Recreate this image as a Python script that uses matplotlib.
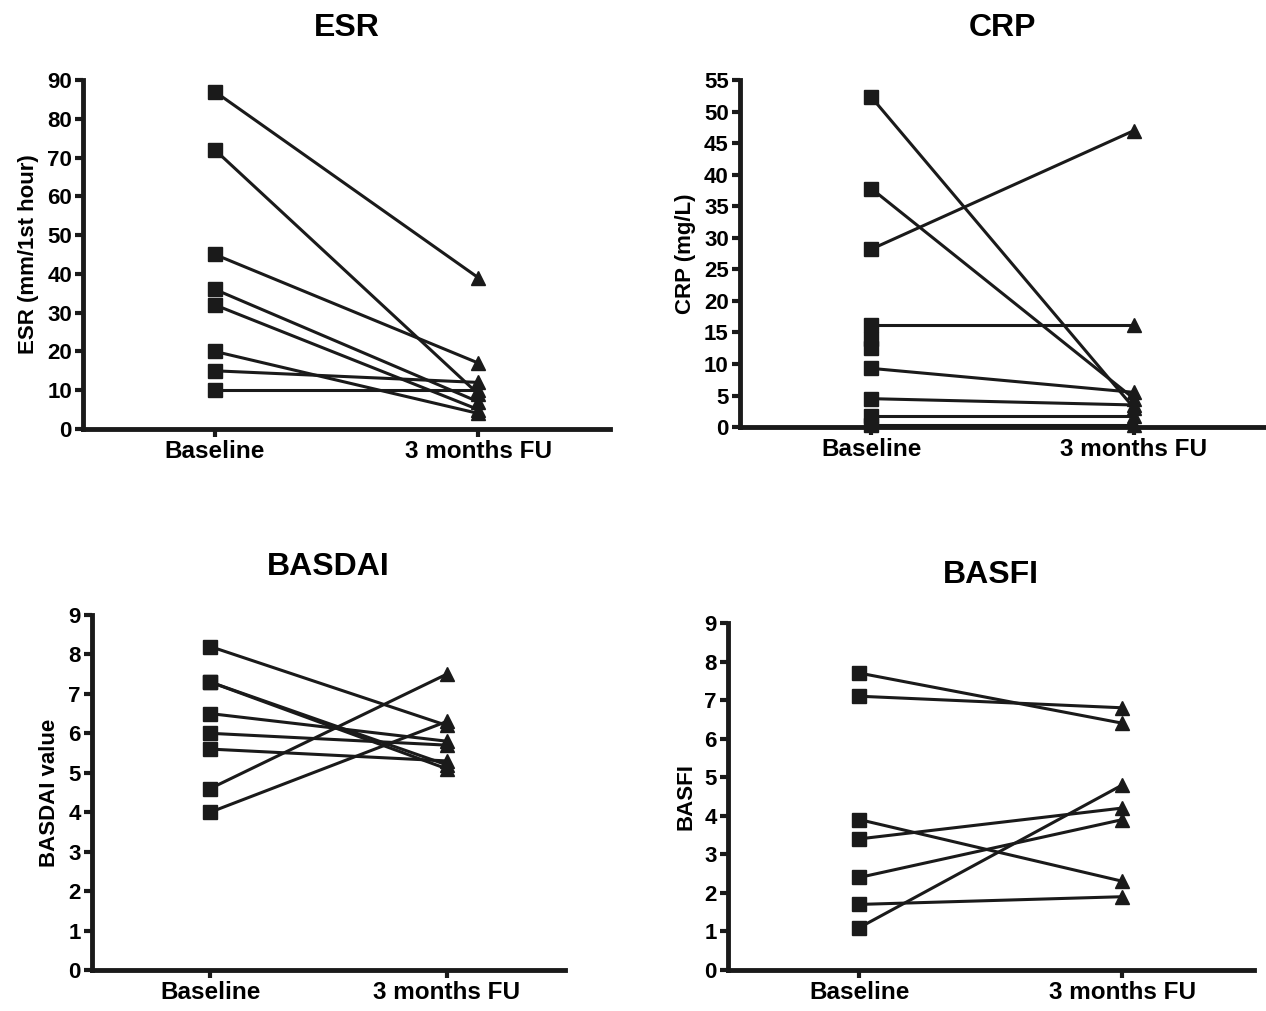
import numpy as np
import matplotlib
matplotlib.use("Agg")
import matplotlib.pyplot as plt

plt.rcParams['font.family'] = ['Liberation Sans', 'DejaVu Sans']
plt.rcParams['font.weight'] = 'bold'

groups = ["Baseline", "3 months FU"]

esr_base = [87, 72, 45, 36, 32, 20, 15, 10]
esr_fu = [39, 9, 17, 7, 5, 4, 12, 10]

crp_base = [52.3, 37.8, 28.2, 16.2, 14.0, 12.5, 9.3, 4.5, 1.8, 0.3]
crp_fu = [3.0, 4.5, 47.0, 16.2, np.nan, np.nan, 5.5, 3.5, 1.8, 0.3]

basdai_base = [8.2, 7.3, 7.3, 6.5, 6.0, 5.6, 4.6, 4.0]
basdai_fu = [6.2, 5.2, 5.1, 5.8, 5.7, 5.3, 7.5, 6.3]

basfi_base = [7.7, 7.1, 3.9, 3.4, 2.4, 1.7, 1.1]
basfi_fu = [6.4, 6.8, 2.3, 4.2, 3.9, 1.9, 4.8]

fig = plt.figure(figsize=(12.66, 10.11), dpi=100)

panels = [
    ("ESR", "ESR (mm/1st hour)", esr_base, esr_fu, 90, 10, [0.0656, 0.5757, 0.4163, 0.3452], 32),
    ("CRP", "CRP (mg/L)", crp_base, crp_fu, 55, 5, [0.5845, 0.5776, 0.415, 0.3432], 32),
    ("BASDAI", "BASDAI value", basdai_base, basdai_fu, 9, 1, [0.0727, 0.0406, 0.3736, 0.3511], 29),
    ("BASFI", "BASFI", basfi_base, basfi_fu, 9, 1, [0.575, 0.0406, 0.4155, 0.3432], 29),
]

for title, ylab, base, fu, ymax, step, pos, tpad in panels:
    ax = fig.add_axes(pos)
    for b, f in zip(base, fu):
        ax.plot([0, 1], [b, f], color='#1a1a1a', lw=2.2, zorder=2, clip_on=False)
    ax.plot(np.zeros(len(base)), base, 's', color='#1a1a1a', ms=10, clip_on=False, zorder=3)
    ax.plot(np.ones(len(fu)), fu, '^', color='#1a1a1a', ms=10, clip_on=False, zorder=3)
    ax.set_xlim(-0.5, 1.5)
    ax.set_ylim(0, ymax)
    ax.set_yticks(np.arange(0, ymax + step, step))
    ax.set_xticks([0, 1])
    ax.set_xticklabels(groups)
    for s in ['top', 'right']:
        ax.spines[s].set_visible(False)
    for s in ['left', 'bottom']:
        ax.spines[s].set_linewidth(3.5)
        ax.spines[s].set_color('#1a1a1a')
    ax.tick_params(width=3.0, length=6, color='#1a1a1a', pad=2)
    ax.tick_params(axis='y', labelsize=16)
    ax.tick_params(axis='x', labelsize=17.5)
    ax.set_ylabel(ylab, fontsize=16, fontweight='bold', labelpad=6)
    ax.set_title(title, fontsize=23, fontweight='bold', pad=tpad)

fig.savefig("out.png", dpi=100)
